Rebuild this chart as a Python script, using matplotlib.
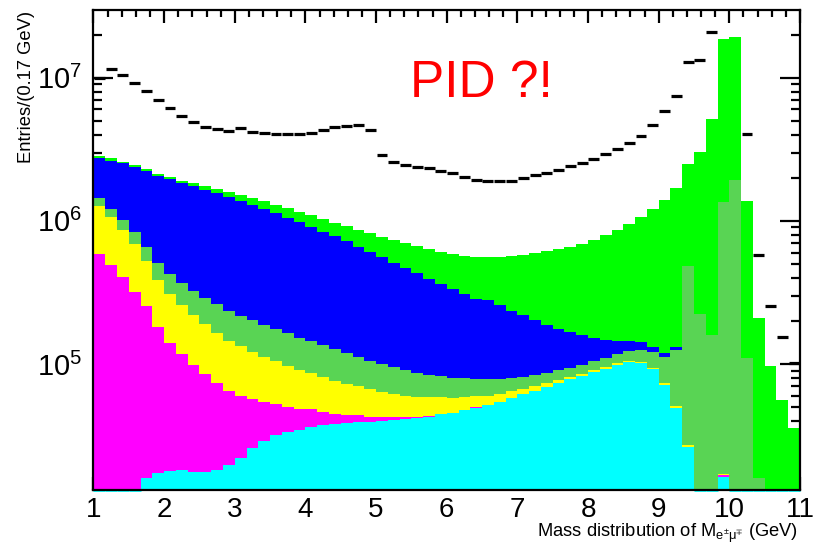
import numpy as np
import matplotlib
matplotlib.use("Agg")
import matplotlib.pyplot as plt
from matplotlib.ticker import MultipleLocator, LogLocator, FuncFormatter, NullFormatter

plt.rcParams["font.family"] = ["Liberation Sans", "DejaVu Sans"]
plt.rcParams["mathtext.fontset"] = "custom"
plt.rcParams["mathtext.rm"] = "Liberation Sans"
plt.rcParams["mathtext.it"] = "Liberation Sans:italic"
plt.rcParams["mathtext.default"] = "regular"

# 60 bins of 1/6 GeV between 1 and 11 GeV
edges = np.linspace(1.0, 11.0, 61)

# stacked MC components, bottom to top (entries per bin)
comp_cyan = [0, 0, 0, 0, 1.59e4, 1.74e4, 1.80e4, 1.82e4, 1.77e4, 1.77e4,
             1.82e4, 1.97e4, 2.22e4, 2.58e4, 2.90e4, 3.19e4, 3.37e4, 3.46e4, 3.65e4, 3.75e4,
             3.79e4, 3.85e4, 3.91e4, 3.93e4, 4.00e4, 4.06e4, 4.11e4, 4.22e4, 4.29e4, 4.45e4,
             4.55e4, 4.75e4, 4.96e4, 5.17e4, 5.46e4, 5.82e4, 6.14e4, 6.51e4, 6.95e4, 7.41e4,
             7.82e4, 8.29e4, 8.84e4, 9.23e4, 9.84e4, 1.038e5, 1.022e5, 9.18e4, 7.13e4, 4.95e4,
             2.64e4, 0, 0, 1.63e4, 0, 0, 0, 0, 0, 0]

comp_magenta = [5.87e5, 4.92e5, 4.08e5, 3.20e5, 2.40e5, 1.65e5, 1.23e5, 9.93e4, 8.12e4, 6.70e4,
                5.59e4, 4.54e4, 3.79e4, 3.11e4, 2.53e4, 2.04e4, 1.67e4, 1.42e4, 1.17e4, 9.0e3,
                6.8e3, 5.5e3, 4.7e3, 3.6e3, 2.9e3, 1.8e3, 1.3e3, 700, 400, 200,
                200, 200, 200, 0, 0, 0, 0, 0, 0, 0,
                0, 0, 0, 0, 0, 0, 0, 0, 0, 0,
                0, 0, 0, 500, 0, 0, 0, 0, 0, 0]

comp_yellow = [6.83e5, 5.66e5, 4.56e5, 3.69e5, 2.71e5, 2.04e5, 1.66e5, 1.41e5, 1.21e5, 1.06e5,
               9.14e4, 7.97e4, 7.35e4, 6.51e4, 5.82e4, 5.27e4, 4.64e4, 4.20e4, 3.88e4, 3.50e4,
               3.18e4, 2.85e4, 2.64e4, 2.36e4, 2.12e4, 1.93e4, 1.74e4, 1.62e4, 1.52e4, 1.38e4,
               1.19e4, 1.08e4, 1.0e4, 8.1e3, 7.1e3, 6.9e3, 5.8e3, 5.1e3, 4.6e3, 3.2e3,
               2.5e3, 2.2e3, 2.4e3, 2.5e3, 2.7e3, 1.7e3, 1.6e3, 1.5e3, 2.0e3, 1.7e3,
               800, 0, 0, 400, 0, 0, 0, 0, 0, 0]

comp_midgreen = [1.67e5, 1.52e5, 1.51e5, 1.47e5, 1.26e5, 1.24e5, 1.18e5, 1.08e5, 1.04e5, 9.7e4,
                 9.56e4, 9.1e4, 8.4e4, 8.1e4, 7.48e4, 7.06e4, 6.79e4, 6.20e4, 5.78e4, 5.42e4,
                 5.01e4, 4.62e4, 4.17e4, 3.90e4, 3.64e4, 3.31e4, 3.10e4, 2.79e4, 2.53e4, 2.40e4,
                 2.27e4, 2.09e4, 1.88e4, 1.84e4, 1.65e4, 1.52e4, 1.39e4, 1.36e4, 1.29e4, 1.35e4,
                 1.36e4, 1.33e4, 1.35e4, 1.53e4, 1.64e4, 1.84e4, 2.15e4, 2.87e4, 3.80e4, 7.41e4,
                 4.57e5, 2.23e5, 1.59e5, 1.343e6, 1.93e6, 1.10e5, 1.6e4, 0, 0, 0]

comp_blue = [1.296e6, 1.423e6, 1.508e6, 1.554e6, 1.576e6, 1.558e6, 1.525e6, 1.463e6, 1.428e6, 1.355e6,
             1.312e6, 1.239e6, 1.158e6, 1.095e6, 1.023e6, 9.65e5, 8.87e5, 8.34e5, 7.61e5, 7.04e5,
             6.57e5, 6.04e5, 5.48e5, 5.04e5, 4.56e5, 4.15e5, 3.80e5, 3.48e5, 3.09e5, 2.80e5,
             2.54e5, 2.28e5, 2.04e5, 2.02e5, 1.80e5, 1.54e5, 1.39e5, 1.19e5, 1.00e5, 8.48e4,
             7.21e4, 6.10e4, 4.68e4, 3.71e4, 2.73e4, 2.09e4, 1.79e4, 1.02e4, 7.4e3, 5.4e3,
             0, 0, 0, 0, 0, 0, 0, 0, 0, 0]

comp_green = [1.2e5, 1.0e5, 6.9e4, 6.5e4, 7.3e4, 6.8e4, 6.4e4, 6.9e4, 7.7e4, 1.1e5,
              9.6e4, 1.15e5, 1.40e5, 1.39e5, 1.66e5, 1.49e5, 1.71e5, 1.72e5, 1.87e5, 1.90e5,
              1.87e5, 1.97e5, 2.03e5, 2.09e5, 2.11e5, 2.25e5, 2.26e5, 2.32e5, 2.43e5, 2.44e5,
              2.50e5, 2.61e5, 2.76e5, 2.79e5, 3.04e5, 3.33e5, 3.57e5, 3.90e5, 4.26e5, 4.56e5,
              4.91e5, 5.30e5, 5.84e5, 6.45e5, 7.18e5, 8.06e5, 9.21e5, 1.078e6, 1.280e6, 1.556e6,
              2.011e6, 2.80e6, 4.99e6, 1.728e7, 1.74e7, 1.27e6, 1.95e5, 9.68e4, 5.61e4, 3.56e4]

# measured entries per bin
data = [1.0e7, 1.145e7, 1.05e7, 9.23e6, 8.07e6, 7.02e6, 6.11e6, 5.43e6, 4.93e6, 4.55e6,
        4.36e6, 4.24e6, 4.45e6, 4.16e6, 4.09e6, 4.02e6, 4.04e6, 4.04e6, 4.13e6, 4.31e6,
        4.52e6, 4.62e6, 4.65e6, 4.33e6, 2.88e6, 2.56e6, 2.47e6, 2.39e6, 2.33e6, 2.24e6,
        2.15e6, 2.02e6, 1.93e6, 1.89e6, 1.89e6, 1.90e6, 1.98e6, 2.08e6, 2.17e6, 2.28e6,
        2.40e6, 2.52e6, 2.69e6, 2.92e6, 3.18e6, 3.52e6, 3.93e6, 4.65e6, 5.85e6, 7.42e6,
        1.28e7, 1.33e7, 2.08e7, np.nan, np.nan, 4.04e6, 5.77e5, 2.54e5, 1.54e5, 1.01e5]

components = [comp_cyan, comp_magenta, comp_yellow, comp_midgreen, comp_blue, comp_green]
colors = ["#00ffff", "#ff00ff", "#ffff00", "#59d454", "#0000ff", "#00ff00"]

fig = plt.figure(figsize=(8.15, 5.47), dpi=100)
ax = fig.add_axes([0.1147, 0.1042, 0.8669, 0.8775])

YMIN, YMAX = 1.32e4, 2.97e7

# cumulative stack, drawn from the total downwards
cum = np.cumsum(np.array(components, dtype=float), axis=0)
for k in reversed(range(len(components))):
    ax.stairs(cum[k], edges, baseline=1.0, fill=True, color=colors[k], lw=0, zorder=2)

# empty bins of the lowest component still show its outline on the frame
cy = np.array(comp_cyan, dtype=float)
empty = cy <= 0
ax.hlines(np.full(empty.sum(), YMIN), edges[:-1][empty], edges[1:][empty],
          color="#00ffff", lw=2.0, zorder=3, clip_on=False)

# data as horizontal bin-width bars
d = np.array(data, dtype=float)
ok = np.isfinite(d)
gap = 0.006
ax.hlines(d[ok], edges[:-1][ok] + gap, edges[1:][ok] - gap, color="black", lw=2.3, zorder=4)

ax.set_yscale("log")
ax.set_xlim(1, 11)
ax.set_ylim(YMIN, YMAX)

ax.xaxis.set_major_locator(MultipleLocator(1))
ax.xaxis.set_minor_locator(MultipleLocator(0.2))
ax.yaxis.set_major_locator(LogLocator(base=10))
ax.yaxis.set_minor_locator(LogLocator(base=10, subs=np.arange(2, 10)))
ax.yaxis.set_minor_formatter(NullFormatter())
ax.yaxis.set_major_formatter(FuncFormatter(lambda v, p: r"$10^{%d}$" % round(np.log10(v))))

ax.tick_params(which="both", direction="in", top=True, right=True, width=1.6, color="black")
ax.tick_params(axis="x", which="major", length=9.4, labelsize=20, pad=5)
ax.tick_params(axis="x", which="minor", length=4.7)
ax.tick_params(axis="y", which="major", length=14.4, labelsize=21, pad=8)
ax.tick_params(axis="y", which="minor", length=6.5)
for s in ax.spines.values():
    s.set_linewidth(1.6)
    s.set_zorder(5)

fig.text(0.979, 0.0183, r"Mass distribution of M$_{e^{\pm}\mu^{\mp}}$ (GeV)",
         ha="right", va="baseline", fontsize=13.2)
fig.text(0.033, 0.980, "Entries/(0.17 GeV)", rotation=90, ha="center", va="top", fontsize=13.2)
fig.text(0.503, 0.823, "PID ?!", color="#ff0000", fontsize=37, ha="left", va="baseline")

fig.savefig("out.png", dpi=100)
